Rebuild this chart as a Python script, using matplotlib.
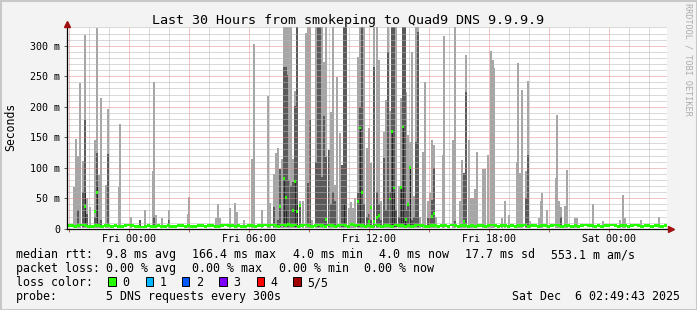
import numpy as np
import matplotlib
matplotlib.use("Agg")
import matplotlib.pyplot as plt
import matplotlib.transforms as mtransforms
from matplotlib.patches import Rectangle

plt.rcParams['font.family'] = ['DejaVu Sans Mono']

# time axis: minutes relative to Fri 00:00, one sample every 5 min
t_start, t_end = -186, 1614

# median rtt in ms, one value per 10 minutes
base_med = [
    5, 5, 4, 5, 6, 5, 4, 4, 5, 5, 4, 5, 5, 4, 5, 4, 4, 5, 6, 5,
    4, 4, 3, 4, 5, 4, 4, 5, 4, 4, 5, 4, 4, 5, 5, 4, 5, 4, 4, 5,
    5, 4, 5, 5, 4, 4, 5, 6, 5, 5, 4, 5, 4, 4, 5, 5, 4, 5, 5, 6,
    5, 6, 5, 4, 6, 5, 7, 5, 6, 4, 5, 6, 5, 4, 5, 6, 5, 4, 6, 5,
    4, 5, 6, 5, 4, 7, 5, 6, 5, 4, 5, 4, 6, 5, 4, 5, 5, 4, 6, 5,
    5, 4, 5, 4, 5, 6, 5, 4, 4, 5, 5, 4, 5, 5, 4, 6, 5, 4, 5, 5,
    4, 5, 4, 5, 5, 4, 5, 6, 5, 4, 5, 5, 4, 5, 4, 5, 5, 6, 4, 5,
    5, 4, 5, 5, 4, 5, 6, 5, 4, 5, 5, 4, 5, 4, 5, 6, 5, 5, 4, 5,
    4, 5, 5, 6, 5, 4, 5, 5, 4, 5, 6, 5, 4, 5, 5, 4, 5, 5, 4, 5,
]

# samples with smoke above the baseline (ms)
spike_t = [-166, -160, -153, -147, -138, -132, -126, -117, -102, -96, -90, -84, -69, -63,
           -30, -26, 6, 33, 48, 72, 75, 81, 99, 120, 177, 180, 261, 267, 273, 303, 318,
           324, 345, 369, 375, 399, 417, 423, 435, 441, 447, 453, 459, 465, 471, 474,
           480, 486, 492, 498, 504, 513, 522, 531, 537, 543, 549, 561, 567, 573, 579,
           585, 591, 600, 606, 612, 618, 624, 633, 639, 645, 651, 660, 666, 672, 678,
           687, 693, 699, 705, 714, 720, 726, 735, 744, 750, 756, 765, 771, 777, 783,
           789, 795, 801, 810, 816, 822, 828, 831, 837, 843, 849, 855, 861, 867, 873,
           882, 888, 897, 903, 909, 915, 921, 942, 945, 972, 978, 993, 999, 1005, 1011,
           1020, 1026, 1032, 1038, 1044, 1062, 1068, 1077, 1086, 1092, 1096, 1119, 1128,
           1140, 1164, 1168, 1174, 1179, 1191, 1197, 1203, 1230, 1236, 1239, 1254, 1281,
           1285, 1290, 1296, 1308, 1314, 1338, 1344, 1392, 1422, 1473, 1482, 1488, 1536,
           1590]
spike_max = [69, 148, 119, 239, 111, 318, 50, 35, 145, 329, 88, 214, 72, 196,
             69, 172, 20, 15, 30, 94, 240, 22, 18, 30, 24, 52, 18, 40, 18, 34, 42,
             27, 15, 114, 303, 30, 217, 42, 90, 125, 133, 98, 114, 340, 340, 340,
             340, 340, 114, 226, 340, 45, 45, 321, 340, 340, 15, 340, 340, 340, 340,
             274, 340, 129, 192, 340, 72, 249, 157, 104, 340, 340, 34, 44, 34, 50,
             282, 340, 340, 340, 132, 165, 108, 340, 340, 277, 45, 159, 211, 340, 193,
             340, 340, 340, 70, 214, 340, 340, 225, 154, 143, 290, 53, 340, 340, 20,
             126, 241, 45, 58, 146, 137, 20, 121, 316, 146, 340, 45, 113, 91, 285,
             146, 50, 50, 65, 126, 98, 98, 121, 291, 277, 263, 18, 45,
             22, 110, 271, 91, 227, 94, 242, 12, 17, 45, 58, 30, 83,
             187, 45, 35, 38, 96, 18, 18, 41, 12, 15, 55, 18, 15,
             20]
spike_p4 = [0, 0, 30, 0, 60, 178, 25, 0, 20, 125, 10, 15, 0, 122,
            0, 0, 0, 15, 0, 0, 20, 0, 0, 15, 0, 0, 0, 0, 0, 0, 0,
            0, 0, 0, 0, 0, 0, 0, 35, 0, 15, 98, 0, 265, 265, 252,
            80, 70, 77, 201, 340, 40, 0, 0, 75, 178, 0, 110, 340, 340, 85,
            185, 118, 129, 40, 60, 45, 0, 0, 104, 340, 340, 0, 0, 0, 0,
            59, 200, 340, 40, 20, 25, 15, 266, 60, 40, 15, 116, 30, 290, 60,
            340, 340, 30, 20, 70, 340, 340, 30, 37, 100, 15, 20, 143, 322, 0,
            0, 0, 18, 18, 48, 100, 0, 0, 0, 0, 12, 0, 0, 91, 225,
            0, 0, 0, 0, 0, 0, 0, 0, 0, 0, 0, 0, 0,
            0, 0, 0, 0, 0, 50, 121, 0, 0, 0, 0, 0, 0,
            0, 0, 20, 0, 0, 0, 0, 0, 0, 0, 0, 0, 0,
            0]
spike_core = {-132: 60, -96: 70, 465: 82, 471: 30, 498: 77, 504: 40, 645: 40,
              693: 165, 789: 160, 795: 60, 816: 70, 822: 167, 828: 20, 843: 100}
spike_med = {-132: 37, -102: 28, -96: 60, 453: 36, 465: 82, 471: 51, 492: 30,
             498: 77, 504: 28, 513: 38, 591: 15, 687: 45, 693: 165, 699: 59,
             720: 12, 726: 35, 735: 12, 744: 18, 750: 22, 783: 49, 789: 160,
             795: 67, 816: 68, 822: 167, 831: 15, 837: 40, 843: 100, 909: 20,
             915: 25, 1005: 12}

y_ticks = [0, 50, 100, 150, 200, 250, 300]
y_labels = ['0', '50 m', '100 m', '150 m', '200 m', '250 m', '300 m']
x_ticks = [-180, 0, 180, 360, 540, 720, 900, 1080, 1260, 1440]
x_labels = ['', 'Fri 00:00', '', 'Fri 06:00', '', 'Fri 12:00', '', 'Fri 18:00', '', 'Sat 00:00']

title = 'Last 30 Hours from smokeping to Quad9 DNS 9.9.9.9'
rtt_parts = ['median rtt:', '9.8 ms avg', '166.4 ms max', '4.0 ms min', '4.0 ms now',
             '17.7 ms sd', '553.1 m am/s']
loss_parts = ['packet loss:', '0.00 % avg', '0.00 % max', '0.00 % min', '0.00 % now']
loss_labels = ['0', '1', '2', '3', '4', '5/5']
loss_colors = ['#26ff00', '#00b8ff', '#0059ff', '#7e00ff', '#ff0000', '#a10000']
probe = ['probe:', '5 DNS requests every 300s']
stamp = 'Sat Dec  6 02:49:43 2025'

W, H = 697, 310
fig = plt.figure(figsize=(W / 100, H / 100), dpi=100)
fig.patch.set_facecolor('#f3f3f3')


def fx(px):
    return px / W


def fy(py):
    return 1 - py / H


# frame around the picture
fig.add_artist(Rectangle((0, 0), 1, 1, transform=fig.transFigure, fill=False,
                         edgecolor='#c8c8c8', linewidth=2.2))

ax = fig.add_axes([fx(67), fy(228.8), 600 / W, 201.8 / H])
ax.set_facecolor('white')
ax.set_xlim(t_start, t_end)
ax.set_ylim(0, 330.8)

# smoke
st = np.array(spike_t)
smax = np.minimum(np.array(spike_max), 345)
sp4 = np.array(spike_p4)
ax.bar(st, smax - 2, bottom=2, width=6, color='#a6a6a6', linewidth=0, zorder=1)
m = sp4 > 0
ax.bar(st[m], np.minimum(sp4[m], 345) - 3, bottom=3, width=5, color='#5a5a5a',
       linewidth=0, zorder=1.1)
ct = list(spike_core.keys())
ax.bar(ct, [v - 3 for v in spike_core.values()], bottom=3, width=3, color='#262626',
       linewidth=0, zorder=1.2)

# median
bt = t_start + 5 + 10 * np.arange(len(base_med))
bm = np.array(base_med)
ax.bar(bt, 4.5, bottom=bm - 2.2, width=10, color=loss_colors[0], linewidth=0, zorder=3)
mt = list(spike_med.keys())
mv = np.array(list(spike_med.values()))
ax.bar(mt, 4.5, bottom=mv - 2.2, width=5, color=loss_colors[0], linewidth=0, zorder=3)

# grid
ax.set_xticks(x_ticks)
ax.set_xticklabels(x_labels)
ax.set_xticks(np.arange(-120, t_end, 60), minor=True)
ax.set_yticks(y_ticks)
ax.set_yticklabels(y_labels)
ax.set_yticks(np.arange(10, 331, 10), minor=True)
ax.set_axisbelow(False)
ax.grid(which='minor', color='#b4b4b4', linewidth=0.72, linestyle=(0, (1, 1)), zorder=2.5)
ax.grid(which='major', color='#e68c8c', linewidth=0.72, linestyle=(0, (1, 1)), zorder=2.6)
ax.tick_params(axis='both', which='major', labelsize=7.2, length=2, width=0.7,
               color='#b06060')
ax.tick_params(axis='x', which='major', pad=1.5)
ax.tick_params(axis='y', which='major', pad=3, color='#606060')
ax.tick_params(axis='both', which='minor', length=0)

for s in ['top', 'right']:
    ax.spines[s].set_visible(False)
for s in ['left', 'bottom']:
    ax.spines[s].set_color('black')
    ax.spines[s].set_linewidth(0.9)
    ax.spines[s].set_zorder(4)

# axis arrows
up = mtransforms.offset_copy(ax.transAxes, fig=fig, x=0, y=2.2, units='points')
ax.plot([0], [1], marker='^', ms=4.2, color='#a01010', transform=up, clip_on=False, zorder=5)
rt = mtransforms.offset_copy(ax.transAxes, fig=fig, x=2.6, y=0, units='points')
ax.plot([1], [0], marker='>', ms=4.2, color='#a01010', transform=rt, clip_on=False, zorder=5)

# texts
fig.text(fx(348), fy(24), title, ha='center', va='baseline', fontsize=9.6)
fig.text(fx(11), fy(127), 'Seconds', rotation=90, ha='center', va='center', fontsize=8.3)
fig.text(fx(688), fy(3), 'RRDTOOL / TOBI OETIKER', rotation=270, ha='center', va='top',
         fontsize=6.1, color='#ababab')

fs = 8.37
rtt_x = [16, 107, 193, 293.3, 379.3, 465.7, 551.7]
for txt, xx in zip(rtt_parts, rtt_x):
    fig.text(fx(xx - 0.5), fy(258.3), txt, ha='left', va='baseline', fontsize=fs)
loss_x = [16, 107, 193, 279.3, 365]
for txt, xx in zip(loss_parts, loss_x):
    fig.text(fx(xx - 0.5), fy(272.2), txt, ha='left', va='baseline', fontsize=fs)
fig.text(fx(15.5), fy(286.1), 'loss color:', ha='left', va='baseline', fontsize=fs)
for txt, xx in zip(probe, [16, 107]):
    fig.text(fx(xx - 0.5), fy(300.0), txt, ha='left', va='baseline', fontsize=fs)
fig.text(fx(680), fy(300), stamp, ha='right', va='baseline', fontsize=fs)

box_x = [108.3, 145.7, 182.0, 219.3, 256.7, 293.3]
for lab, col, bx in zip(loss_labels, loss_colors, box_x):
    fig.add_artist(Rectangle((fx(bx), fy(285.5)), 7.3 / W, 8.3 / H, transform=fig.transFigure,
                             facecolor=col, edgecolor='black', linewidth=0.7))
    fig.text(fx(bx + 14.0), fy(286.1), lab, ha='left', va='baseline', fontsize=fs)

fig.savefig('out.png', dpi=100, facecolor=fig.get_facecolor())
